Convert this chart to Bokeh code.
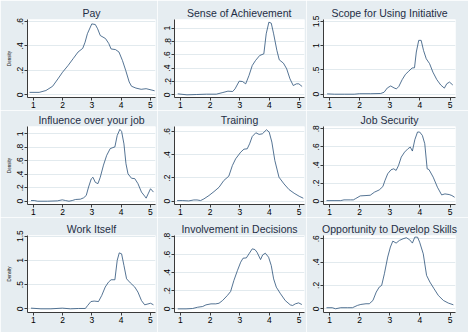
from bokeh.plotting import figure
from bokeh.layouts import gridplot
from bokeh.models import Range1d, FixedTicker
from bokeh.embed import file_html
from bokeh.resources import INLINE

# Kernel density estimates of job-satisfaction scores (1-5) by aspect
titles = ["Pay", "Sense of Achievement", "Scope for Using Initiative",
          "Influence over your job", "Training", "Job Security",
          "Work Itself", "Involvement in Decisions", "Opportunity to Develop Skills"]

pay_x = [0.87, 1.2, 1.43, 1.66, 1.84, 2.0, 2.19, 2.36, 2.53, 2.69, 2.77, 2.85, 3.0, 3.12,
         3.2, 3.29, 3.47, 3.58, 3.66, 3.81, 3.93, 4.05, 4.16, 4.28, 4.36, 4.51, 4.69, 4.86,
         5.03, 5.15]
pay_y = [0.02, 0.02, 0.035, 0.07, 0.13, 0.185, 0.24, 0.295, 0.35, 0.38, 0.43, 0.5, 0.58,
         0.575, 0.54, 0.485, 0.46, 0.42, 0.375, 0.37, 0.35, 0.28, 0.2, 0.105, 0.07, 0.055,
         0.045, 0.05, 0.04, 0.033]

achieve_x = [0.91, 1.22, 1.55, 1.88, 2.21, 2.43, 2.6, 2.76, 2.84, 2.98, 3.09, 3.2, 3.31,
             3.42, 3.53, 3.67, 3.81, 3.89, 3.98, 4.06, 4.14, 4.25, 4.33, 4.47, 4.58, 4.69,
             4.8, 4.91, 4.99, 5.1]
achieve_y = [0.015, 0.0, 0.005, 0.01, 0.01, 0.035, 0.055, 0.05, 0.09, 0.205, 0.2, 0.165,
             0.29, 0.44, 0.515, 0.59, 0.615, 0.915, 1.09, 1.075, 0.915, 0.665, 0.525, 0.475,
             0.39, 0.24, 0.14, 0.165, 0.165, 0.125]

scope_x = [0.92, 1.16, 1.49, 1.82, 1.99, 2.37, 2.7, 2.81, 2.92, 3.03, 3.14, 3.22, 3.3,
           3.41, 3.52, 3.63, 3.74, 3.82, 3.88, 3.96, 4.04, 4.12, 4.21, 4.32, 4.43, 4.56,
           4.69, 4.81, 4.89, 4.98, 5.09]
scope_y = [0.007, 0.0, 0.0, 0.0, 0.01, 0.01, 0.015, 0.04, 0.13, 0.17, 0.13, 0.11, 0.16,
           0.3, 0.41, 0.475, 0.54, 0.545, 0.87, 1.11, 1.11, 0.9, 0.73, 0.63, 0.455, 0.3,
           0.19, 0.125, 0.215, 0.25, 0.19]

influence_x = [0.92, 1.03, 1.15, 1.48, 1.82, 1.99, 2.1, 2.22, 2.33, 2.44, 2.61, 2.72, 2.81,
               2.89, 2.98, 3.04, 3.12, 3.21, 3.29, 3.4, 3.51, 3.63, 3.72, 3.79, 3.87, 3.96,
               4.02, 4.1, 4.17, 4.24, 4.36, 4.47, 4.58, 4.7, 4.81, 4.86, 4.94, 5.01, 5.11]
influence_y = [0.01, 0.01, 0.0, 0.0, 0.005, 0.02, 0.01, 0.0, 0.01, 0.025, 0.03, 0.05, 0.085,
               0.21, 0.33, 0.355, 0.28, 0.26, 0.355, 0.535, 0.68, 0.78, 0.795, 0.805, 0.975,
               1.065, 1.035, 0.85, 0.555, 0.405, 0.34, 0.335, 0.26, 0.135, 0.075, 0.045,
               0.12, 0.185, 0.135]

training_x = [0.89, 1.06, 1.28, 1.45, 1.56, 1.68, 1.79, 1.96, 2.13, 2.3, 2.46, 2.63, 2.75,
              2.86, 3.03, 3.14, 3.25, 3.33, 3.42, 3.54, 3.65, 3.76, 3.9, 3.99, 4.08, 4.18,
              4.32, 4.49, 4.66, 4.83, 5.0, 5.14]
training_y = [0.006, 0.006, 0.003, 0.011, 0.011, 0.006, 0.02, 0.049, 0.083, 0.12, 0.178,
              0.216, 0.307, 0.365, 0.422, 0.448, 0.451, 0.494, 0.557, 0.589, 0.575, 0.58,
              0.615, 0.595, 0.509, 0.351, 0.207, 0.149, 0.1, 0.069, 0.043, 0.026]

security_x = [0.9, 1.15, 1.37, 1.48, 1.7, 1.79, 1.87, 2.02, 2.21, 2.35, 2.49, 2.65, 2.77,
              2.84, 2.93, 3.04, 3.13, 3.21, 3.29, 3.38, 3.49, 3.6, 3.68, 3.75, 3.83, 3.92,
              3.99, 4.08, 4.16, 4.24, 4.3, 4.44, 4.58, 4.72, 4.83, 4.97, 5.06, 5.15]
security_y = [0.007, 0.007, 0.007, 0.015, 0.015, 0.015, 0.03, 0.059, 0.063, 0.066, 0.1,
              0.125, 0.162, 0.229, 0.303, 0.347, 0.358, 0.34, 0.395, 0.487, 0.542, 0.579,
              0.598, 0.554, 0.679, 0.764, 0.764, 0.727, 0.635, 0.358, 0.35, 0.266, 0.155,
              0.07, 0.081, 0.074, 0.063, 0.044]

work_x = [0.92, 1.26, 1.6, 1.99, 2.27, 2.55, 2.78, 2.86, 2.97, 3.08, 3.23, 3.34, 3.46,
          3.57, 3.66, 3.79, 3.87, 3.94, 4.02, 4.1, 4.19, 4.32, 4.47, 4.58, 4.7, 4.81, 4.92,
          5.01, 5.11]
work_y = [0.014, 0.0, 0.0, 0.014, 0.0, 0.007, 0.007, 0.07, 0.15, 0.16, 0.15, 0.275, 0.45,
          0.55, 0.6, 0.6, 1.0, 1.155, 1.135, 0.895, 0.62, 0.535, 0.45, 0.345, 0.17, 0.083,
          0.1, 0.115, 0.083]

involve_x = [0.91, 1.19, 1.41, 1.58, 1.75, 1.86, 2.03, 2.19, 2.3, 2.42, 2.58, 2.69, 2.8,
             2.92, 3.03, 3.11, 3.22, 3.31, 3.42, 3.51, 3.58, 3.7, 3.77, 3.86, 3.97, 4.06,
             4.14, 4.23, 4.36, 4.53, 4.7, 4.78, 4.87, 4.98, 5.09]
involve_y = [0.0, 0.0, 0.004, 0.018, 0.026, 0.044, 0.055, 0.055, 0.062, 0.092, 0.147,
             0.191, 0.312, 0.422, 0.514, 0.558, 0.561, 0.606, 0.661, 0.653, 0.624, 0.543,
             0.594, 0.613, 0.569, 0.477, 0.33, 0.239, 0.172, 0.092, 0.044, 0.037, 0.055,
             0.066, 0.048]

skills_x = [0.9, 1.09, 1.2, 1.37, 1.59, 1.76, 1.93, 2.04, 2.21, 2.32, 2.44, 2.55, 2.65,
            2.73, 2.82, 2.93, 3.02, 3.1, 3.21, 3.32, 3.44, 3.55, 3.66, 3.75, 3.83, 3.92,
            3.99, 4.11, 4.22, 4.33, 4.47, 4.61, 4.78, 4.94, 5.11]
skills_y = [0.009, 0.009, 0.0, 0.009, 0.009, 0.009, 0.029, 0.037, 0.043, 0.043, 0.071,
            0.143, 0.186, 0.2, 0.3, 0.443, 0.529, 0.58, 0.563, 0.586, 0.6, 0.609, 0.591,
            0.563, 0.614, 0.614, 0.571, 0.471, 0.286, 0.229, 0.171, 0.114, 0.071, 0.049,
            0.034]

x_ticks = [1, 2, 3, 4, 5]
y_ticks = [
    [0, 0.2, 0.4, 0.6],
    [0, 0.2, 0.4, 0.6, 0.8, 1.0],
    [0, 0.5, 1.0, 1.5],
    [0, 0.2, 0.4, 0.6, 0.8, 1.0],
    [0, 0.2, 0.4, 0.6],
    [0, 0.2, 0.4, 0.6, 0.8],
    [0, 0.5, 1.0, 1.5],
    [0, 0.2, 0.4, 0.6, 0.8],
    [0, 0.2, 0.4, 0.6],
]

series = [(pay_x, pay_y), (achieve_x, achieve_y), (scope_x, scope_y),
          (influence_x, influence_y), (training_x, training_y), (security_x, security_y),
          (work_x, work_y), (involve_x, involve_y), (skills_x, skills_y)]

# vertical extent of each panel's plot region (includes plot-region margin)
y_extent = [(-0.022, 0.616), (-0.04, 1.13), (-0.068, 1.54),
            (-0.049, 1.108), (-0.028, 0.643), (-0.036, 0.825),
            (-0.076, 1.514), (-0.04, 0.808), (-0.032, 0.628)]

BG = "#E6EDF1"
LINE = "#2A5078"
TEXT = "#1F2D45"

col_left = [27, 17, 17]
col_frame = [128, 130, 132]
col_right = [2, 2, 13]
row_top = [19, 16, 18]
row_frame = [78, 78, 77]
row_bottom = [13, 13, 20]


def tick_text(v):
    if v == 0:
        return "0"
    if v == int(v):
        return str(int(v))
    s = ("%g" % v)
    return s[1:] if s.startswith("0.") else s


def panel(i):
    r, c = divmod(i, 3)
    xs, ys = series[i]
    p = figure(width=col_left[c] + col_frame[c] + col_right[c],
               height=row_top[r] + row_frame[r] + row_bottom[r],
               x_range=Range1d(0.8, 5.18), y_range=Range1d(*y_extent[i]),
               output_backend="svg", toolbar_location=None,
               min_border_left=col_left[c], min_border_right=col_right[c],
               min_border_top=row_top[r], min_border_bottom=row_bottom[r])
    p.border_fill_color = BG
    p.background_fill_color = "white"
    p.outline_line_color = None

    p.title.text = titles[i]
    p.title.align = "center"
    p.title.text_font = "Liberation Sans"
    p.title.text_font_size = "10.5px"
    p.title.text_font_style = "normal"
    p.title.text_color = TEXT
    p.title.standoff = 2

    p.xgrid.visible = False
    p.ygrid.ticker = FixedTicker(ticks=y_ticks[i])
    p.ygrid.grid_line_color = "#E2EAEE"

    for ax in (p.xaxis[0], p.yaxis[0]):
        ax.axis_line_color = "#3A3A3A"
        ax.major_tick_line_color = "#3A3A3A"
        ax.major_tick_in = 0
        ax.major_tick_out = 3
        ax.minor_tick_line_color = None
        ax.major_label_text_font = "Liberation Sans"
        ax.major_label_text_font_size = "8.5px"
        ax.major_label_text_color = "#000000"
        ax.major_label_standoff = 1

    p.xaxis.ticker = FixedTicker(ticks=x_ticks)
    p.xaxis.major_label_overrides = {t: str(t) for t in x_ticks}
    p.yaxis.ticker = FixedTicker(ticks=y_ticks[i])
    p.yaxis.major_label_overrides = {t: tick_text(t) for t in y_ticks[i]}
    p.yaxis.major_label_orientation = "vertical"
    if c == 0:
        p.yaxis.axis_label = "Density"
        p.yaxis.axis_label_text_font = "Liberation Sans"
        p.yaxis.axis_label_text_font_size = "4.5px"
        p.yaxis.axis_label_text_font_style = "normal"
        p.yaxis.axis_label_text_color = "#111111"
        p.yaxis.axis_label_standoff = 3

    p.line(xs, ys, line_color=LINE, line_width=0.8)
    return p


panels = [panel(i) for i in range(9)]
grid = gridplot([panels[0:3], panels[3:6], panels[6:9]], toolbar_location=None)

open("out.html", "w").write(file_html(grid, INLINE))
